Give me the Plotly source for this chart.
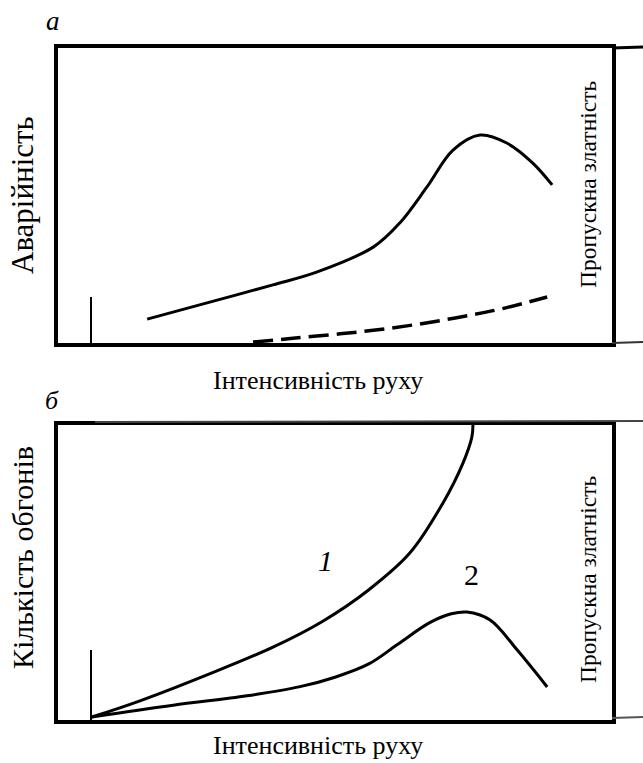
import plotly.graph_objects as go

W, H = 643, 763

# ---- data (normalised units: intensity 0..100, value 0..100) ----
a_solid_x = [16.1, 26.9, 38.8, 46.8, 56.9, 61.7, 66.6, 71.3, 76.2, 81.0, 85.7, 89.2]
a_solid_y = [8.1, 13.6, 19.7, 24.1, 32.5, 40.7, 52.9, 65.4, 70.5, 67.8, 61.0, 53.6]

a_dash_x = [35.2, 42.4, 50.9, 56.9, 63.0, 69.0, 74.9, 81.0, 88.3]
a_dash_y = [0.3, 1.6, 3.1, 4.3, 5.8, 7.6, 9.6, 12.0, 15.6]

b1_x = [6.1, 14.8, 26.9, 38.8, 47.8, 56.0, 63.5, 69.5, 73.1, 74.7, 74.9]
b1_y = [1.0, 6.5, 15.3, 24.7, 33.5, 44.0, 56.6, 73.6, 87.1, 95.9, 100.0]

b2_x = [6.1, 20.8, 34.1, 43.7, 50.0, 56.1, 61.2, 67.1, 71.0, 73.8, 78.0, 82.9, 88.3]
b2_y = [1.0, 5.0, 8.2, 11.3, 14.5, 19.0, 25.5, 33.0, 36.0, 36.6, 33.9, 23.7, 11.2]

panel_labels = ["a", "б"]
y_titles = ["Аварійність", "Кількість обгонів"]
x_title = "Інтенсивність руху"
right_title = "Пропускна златність"
curve_labels = ["1", "2"]
curve_label_pos = [(48.2, 54.2), (74.7, 49.2)]

FONT = "Liberation Serif"

def px(x):
    return x / W
def py(y):
    return 1 - y / H

X0, X1 = 58, 612
A_TOP, A_BOT = 48, 343
B_TOP, B_BOT = 425, 720

fig = go.Figure()

line_style = dict(color="black", width=3, shape="spline", smoothing=1.0)
fig.add_trace(go.Scatter(x=a_solid_x, y=a_solid_y, mode="lines", line=line_style,
                         xaxis="x", yaxis="y", showlegend=False, hoverinfo="skip"))
fig.add_trace(go.Scatter(x=a_dash_x, y=a_dash_y, mode="lines",
                         line=dict(color="black", width=3.5, dash="20px,8px", shape="spline"),
                         xaxis="x", yaxis="y", showlegend=False, hoverinfo="skip"))
fig.add_trace(go.Scatter(x=b1_x, y=b1_y, mode="lines", line=line_style,
                         xaxis="x2", yaxis="y2", showlegend=False, hoverinfo="skip"))
fig.add_trace(go.Scatter(x=b2_x, y=b2_y, mode="lines", line=line_style,
                         xaxis="x2", yaxis="y2", showlegend=False, hoverinfo="skip"))

ax_common = dict(range=[0, 100], showgrid=False, zeroline=False, showticklabels=False,
                 ticks="", showline=True, linecolor="black", linewidth=3.5, mirror=True,
                 fixedrange=True)

fig.update_layout(
    width=W, height=H,
    margin=dict(l=0, r=0, t=0, b=0),
    paper_bgcolor="white", plot_bgcolor="white",
    font=dict(family=FONT, color="black"),
    xaxis=dict(domain=[px(X0), px(X1)], anchor="y", **ax_common),
    yaxis=dict(domain=[py(A_BOT), py(A_TOP)], anchor="x", **ax_common),
    xaxis2=dict(domain=[px(X0), px(X1)], anchor="y2", **ax_common),
    yaxis2=dict(domain=[py(B_BOT), py(B_TOP)], anchor="x2", **ax_common),
)

ann = []
def text(x, y, s, size, angle=0, italic=False, xref="paper", yref="paper"):
    if italic:
        s = "<i>" + s + "</i>"
    ann.append(dict(x=x, y=y, xref=xref, yref=yref, text=s, showarrow=False,
                    textangle=angle, xanchor="center", yanchor="middle",
                    font=dict(family=FONT, size=size, color="black")))

text(px(53), py(21), panel_labels[0], 27, italic=True)
text(px(52), py(400), panel_labels[1], 26, italic=True)
text(px(22), py(195), y_titles[0], 31, angle=-90)
text(px(22), py(558), y_titles[1], 30, angle=-90)
text(px(318), py(380), x_title, 26)
text(px(318), py(745), x_title, 26)
text(px(588), py(185), right_title, 23.5, angle=-90)
text(px(588), py(580), right_title, 23.5, angle=-90)
text(curve_label_pos[0][0], curve_label_pos[0][1], curve_labels[0], 30, italic=True, xref="x2", yref="y2")
text(curve_label_pos[1][0], curve_label_pos[1][1], curve_labels[1], 30, xref="x2", yref="y2")
fig.update_layout(annotations=ann)

shapes = []
def seg(x0, y0, x1, y1, w=2, c="black"):
    shapes.append(dict(type="line", xref="paper", yref="paper",
                       x0=px(x0), y0=py(y0), x1=px(x1), y1=py(y1),
                       line=dict(color=c, width=w)))
seg(X1, A_TOP, 643, A_TOP - 1, 3)
seg(X1, A_BOT, 643, A_BOT - 1, 2, "#333")
seg(91, 297, 91, A_BOT, 2)
seg(95, B_TOP - 3, 643, B_TOP - 4, 2, "#444")
seg(X1, B_BOT - 2, 643, B_BOT - 3, 2, "#555")
seg(91, 650, 91, B_BOT, 2)
fig.update_layout(shapes=shapes)

fig.write_html("out.html")
